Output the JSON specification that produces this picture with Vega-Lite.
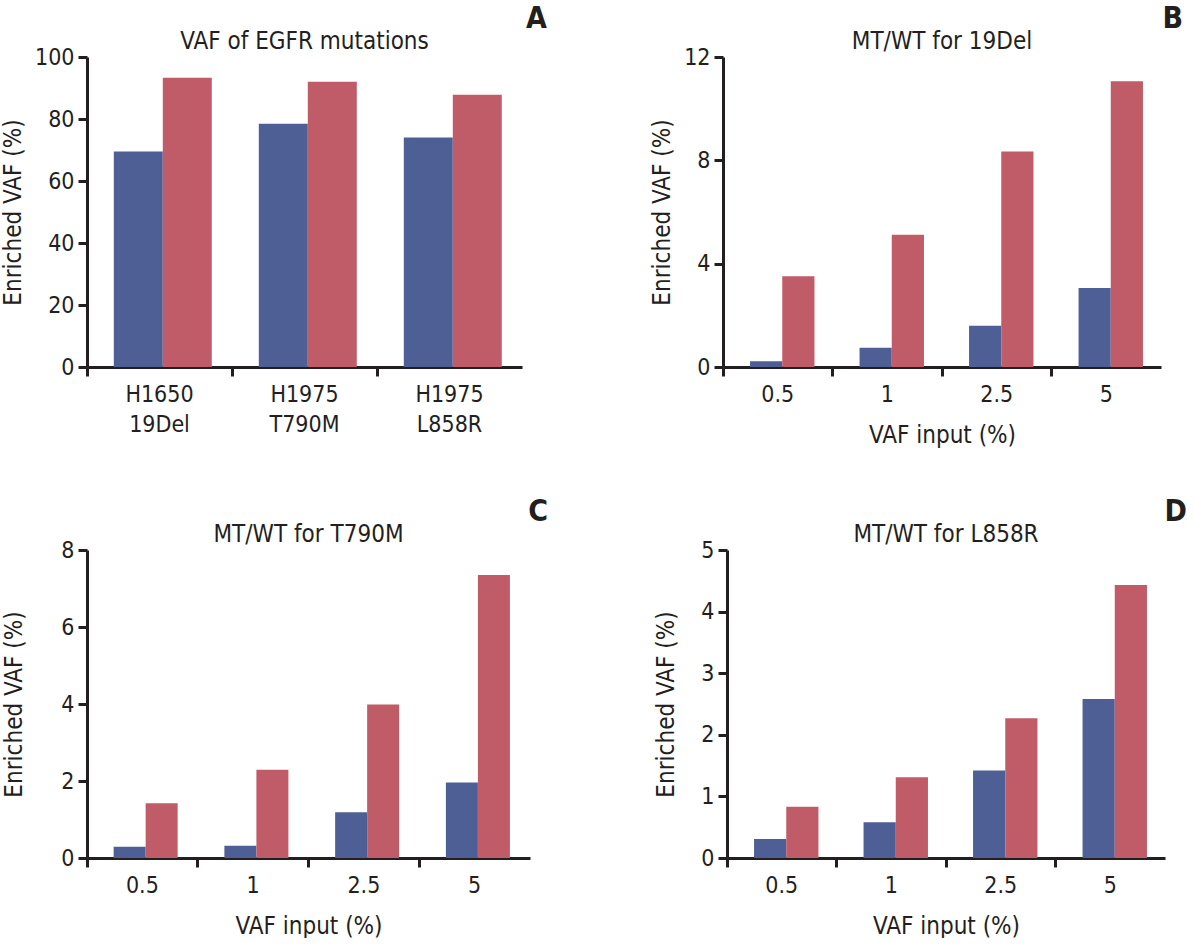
{
  "$schema": "https://vega.github.io/schema/vega-lite/v6.json",
  "background": "white",
  "padding": {"left": 1, "top": 4, "right": 0, "bottom": 0},
  "config": {
    "font": "DejaVu Sans Condensed, DejaVu Sans",
    "view": {"stroke": null},
    "bar": {"stroke": null},
    "axis": {
      "domainColor": "#231f20",
      "domainWidth": 3,
      "tickColor": "#231f20",
      "tickWidth": 3,
      "tickSize": 9,
      "labelColor": "#231f20",
      "labelFontSize": 23,
      "labelFont": "DejaVu Sans Condensed, DejaVu Sans",
      "titleFont": "DejaVu Sans Condensed, DejaVu Sans",
      "titleColor": "#231f20",
      "titleFontSize": 24,
      "titleFontWeight": "normal",
      "grid": false
    },
    "axisY": {"labelPadding": 4, "titlePadding": 9, "minExtent": 40},
    "axisX": {"labelAngle": 0, "bandPosition": 0, "labelPadding": 7, "titlePadding": 17},
    "title": {
      "font": "DejaVu Sans Condensed, DejaVu Sans",
      "fontSize": 24,
      "fontWeight": "normal",
      "color": "#231f20"
    }
  },
  "datasets": {
    "a": [
      {"sample": "H1650 19Del", "group": "Pre", "vaf": 69.5},
      {"sample": "H1650 19Del", "group": "Post", "vaf": 93.3},
      {"sample": "H1975 T790M", "group": "Pre", "vaf": 78.5},
      {"sample": "H1975 T790M", "group": "Post", "vaf": 92.0},
      {"sample": "H1975 L858R", "group": "Pre", "vaf": 74.0},
      {"sample": "H1975 L858R", "group": "Post", "vaf": 87.8}
    ],
    "b": [
      {"input": "0.5", "group": "Pre", "vaf": 0.22},
      {"input": "0.5", "group": "Post", "vaf": 3.51},
      {"input": "1", "group": "Pre", "vaf": 0.75},
      {"input": "1", "group": "Post", "vaf": 5.12},
      {"input": "2.5", "group": "Pre", "vaf": 1.6},
      {"input": "2.5", "group": "Post", "vaf": 8.34},
      {"input": "5", "group": "Pre", "vaf": 3.06},
      {"input": "5", "group": "Post", "vaf": 11.06}
    ],
    "c": [
      {"input": "0.5", "group": "Pre", "vaf": 0.29},
      {"input": "0.5", "group": "Post", "vaf": 1.42},
      {"input": "1", "group": "Pre", "vaf": 0.32},
      {"input": "1", "group": "Post", "vaf": 2.29},
      {"input": "2.5", "group": "Pre", "vaf": 1.19},
      {"input": "2.5", "group": "Post", "vaf": 3.99},
      {"input": "5", "group": "Pre", "vaf": 1.96},
      {"input": "5", "group": "Post", "vaf": 7.35}
    ],
    "d": [
      {"input": "0.5", "group": "Pre", "vaf": 0.31},
      {"input": "0.5", "group": "Post", "vaf": 0.83},
      {"input": "1", "group": "Pre", "vaf": 0.58},
      {"input": "1", "group": "Post", "vaf": 1.31},
      {"input": "2.5", "group": "Pre", "vaf": 1.42},
      {"input": "2.5", "group": "Post", "vaf": 2.27},
      {"input": "5", "group": "Pre", "vaf": 2.58},
      {"input": "5", "group": "Post", "vaf": 4.43}
    ]
  },
  "spacing": 50,
  "resolve": {"scale": {"xOffset": "independent", "x": "independent", "y": "independent"}},
  "vconcat": [
    {
      "spacing": 103,
      "resolve": {"scale": {"xOffset": "independent", "x": "independent", "y": "independent"}},
      "hconcat": [
        {
          "title": {"text": "A", "anchor": "end", "fontWeight": "bold", "fontSize": 30, "dx": 25, "offset": -4},
          "resolve": {"scale": {"xOffset": "independent"}},
          "vconcat": [
            {
              "title": {"text": "VAF of EGFR mutations", "offset": -8},
              "width": 435,
              "height": 310,
              "data": {"name": "a"},
              "mark": "bar",
              "encoding": {
                "x": {"field": "sample", "type": "nominal", "sort": ["H1650 19Del", "H1975 T790M", "H1975 L858R"],
                  "scale": {"paddingInner": 0, "paddingOuter": 0},
                  "axis": {"title": null, "labelExpr": "split(datum.label, ' ')", "labelLineHeight": 30}},
                "xOffset": {"field": "group", "type": "nominal", "sort": ["Pre", "Post"], "scale": {"paddingInner": 0, "paddingOuter": 0.48, "align": 0.57}},
                "y": {"field": "vaf", "type": "quantitative", "scale": {"domain": [0, 100], "nice": false},
                  "axis": {"title": "Enriched VAF (%)", "values": [0, 20, 40, 60, 80, 100]}},
                "color": {"field": "group", "type": "nominal", "scale": {"domain": ["Pre", "Post"], "range": ["#4e5f96", "#c05b68"]}, "legend": null}
              }
            }
          ]
        },
        {
          "title": {"text": "B", "anchor": "end", "fontWeight": "bold", "fontSize": 30, "dx": 22, "offset": -4},
          "resolve": {"scale": {"xOffset": "independent"}},
          "vconcat": [
            {
              "title": {"text": "MT/WT for 19Del", "offset": -8},
              "width": 438,
              "height": 310,
              "data": {"name": "b"},
              "mark": "bar",
              "encoding": {
                "x": {"field": "input", "type": "nominal", "sort": ["0.5", "1", "2.5", "5"],
                  "scale": {"paddingInner": 0, "paddingOuter": 0},
                  "axis": {"title": "VAF input (%)"}},
                "xOffset": {"field": "group", "type": "nominal", "sort": ["Pre", "Post"], "scale": {"paddingInner": 0, "paddingOuter": 0.7, "align": 0.6}},
                "y": {"field": "vaf", "type": "quantitative", "scale": {"domain": [0, 12], "nice": false},
                  "axis": {"title": "Enriched VAF (%)", "values": [0, 4, 8, 12]}},
                "color": {"field": "group", "type": "nominal", "scale": {"domain": ["Pre", "Post"], "range": ["#4e5f96", "#c05b68"]}, "legend": null}
              }
            }
          ]
        }
      ]
    },
    {
      "spacing": 106,
      "resolve": {"scale": {"xOffset": "independent", "x": "independent", "y": "independent"}},
      "hconcat": [
        {
          "title": {"text": "C", "anchor": "end", "fontWeight": "bold", "fontSize": 30, "dx": 18, "offset": -4},
          "resolve": {"scale": {"xOffset": "independent"}},
          "vconcat": [
            {
              "title": {"text": "MT/WT for T790M", "offset": -8},
              "width": 443,
              "height": 308,
              "data": {"name": "c"},
              "mark": "bar",
              "encoding": {
                "x": {"field": "input", "type": "nominal", "sort": ["0.5", "1", "2.5", "5"],
                  "scale": {"paddingInner": 0, "paddingOuter": 0},
                  "axis": {"title": "VAF input (%)"}},
                "xOffset": {"field": "group", "type": "nominal", "sort": ["Pre", "Post"], "scale": {"paddingInner": 0, "paddingOuter": 0.73, "align": 0.57}},
                "y": {"field": "vaf", "type": "quantitative", "scale": {"domain": [0, 8], "nice": false},
                  "axis": {"title": "Enriched VAF (%)", "values": [0, 2, 4, 6, 8], "minExtent": 52}},
                "color": {"field": "group", "type": "nominal", "scale": {"domain": ["Pre", "Post"], "range": ["#4e5f96", "#c05b68"]}, "legend": null}
              }
            }
          ]
        },
        {
          "title": {"text": "D", "anchor": "end", "fontWeight": "bold", "fontSize": 30, "dx": 22, "offset": -4},
          "resolve": {"scale": {"xOffset": "independent"}},
          "vconcat": [
            {
              "title": {"text": "MT/WT for L858R", "offset": -8},
              "width": 438,
              "height": 308,
              "data": {"name": "d"},
              "mark": "bar",
              "encoding": {
                "x": {"field": "input", "type": "nominal", "sort": ["0.5", "1", "2.5", "5"],
                  "scale": {"paddingInner": 0, "paddingOuter": 0},
                  "axis": {"title": "VAF input (%)"}},
                "xOffset": {"field": "group", "type": "nominal", "sort": ["Pre", "Post"], "scale": {"paddingInner": 0, "paddingOuter": 0.7, "align": 0.6}},
                "y": {"field": "vaf", "type": "quantitative", "scale": {"domain": [0, 5], "nice": false},
                  "axis": {"title": "Enriched VAF (%)", "values": [0, 1, 2, 3, 4, 5]}},
                "color": {"field": "group", "type": "nominal", "scale": {"domain": ["Pre", "Post"], "range": ["#4e5f96", "#c05b68"]}, "legend": null}
              }
            }
          ]
        }
      ]
    }
  ]
}
